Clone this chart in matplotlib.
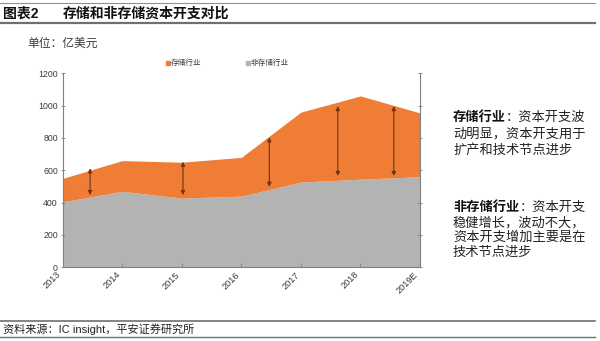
import matplotlib
matplotlib.use('Agg')
import matplotlib.pyplot as plt
from matplotlib.lines import Line2D

plt.rcParams['font.family'] = ['Liberation Sans', 'Noto Sans CJK SC']

# data
years = [2013, 2014, 2015, 2016, 2017, 2018, 2019]
year_labels = ['2013', '2014', '2015', '2016', '2017', '2018', '2019E']
non_storage = [405, 470, 428, 440, 527, 545, 560]
storage = [145, 190, 222, 240, 433, 515, 395]
series_names = ['存储行业', '非存储行业']

# double arrows drawn on the chart: x position, bottom, top
arrow_x = [2013.46, 2015.02, 2016.47, 2017.62, 2018.56]
arrow_lo = [447, 447, 498, 565, 565]
arrow_hi = [612, 653, 804, 997, 997]

orange = '#ef7d35'
grey = '#b3b3b3'
arrow_col = '#6b3514'
txt = '#3a3a3a'

fig = plt.figure(figsize=(6, 3.41), dpi=100)
W, H = 600, 341

def fx(px):
    return px / W

def fy(py):
    return 1 - py / H

ax = fig.add_axes([fx(62.7), fy(267.3), fx(420 - 62.7), (267.3 - 73.3) / H])
total = [a + b for a, b in zip(non_storage, storage)]
ax.fill_between(years, 0, non_storage, color=grey, lw=0, label=series_names[1])
ax.fill_between(years, non_storage, total, color=orange, lw=0, label=series_names[0])

for x, lo, hi in zip(arrow_x, arrow_lo, arrow_hi):
    ax.annotate('', xy=(x, hi), xytext=(x, lo),
                arrowprops=dict(arrowstyle='<|-|>', color=arrow_col, lw=0.8,
                                mutation_scale=6, shrinkA=0, shrinkB=0))

ax.set_xlim(2013, 2019)
ax.set_ylim(0, 1200)
ax.set_yticks(range(0, 1201, 200))
ax.set_xticks(years)
ax.set_xticklabels(year_labels, rotation=45, ha='right', va='top', fontsize=6.6, color=txt)
ax.tick_params(axis='y', labelsize=6.3, labelcolor=txt, direction='inout', length=3,
               width=0.6, color='#808080', pad=2)
ax.tick_params(axis='x', direction='in', length=3, width=0.6, color='#808080', pad=2)
for s in ['left', 'bottom', 'right']:
    ax.spines[s].set_color('#808080')
    ax.spines[s].set_linewidth(0.8)
ax.spines['top'].set_visible(False)
ax2 = ax.twinx()
ax2.set_ylim(0, 1200)
ax2.set_yticks(range(0, 1201, 200))
ax2.set_yticklabels([])
ax2.tick_params(axis='y', direction='inout', length=3, width=0.6, color='#808080')
for s in ax2.spines.values():
    s.set_visible(False)

# legend
fig.patches.append(plt.Rectangle((fx(166), fy(65)), fx(4), 4 / H, color=orange,
                                 transform=fig.transFigure))
fig.text(fx(171), fy(62.7), series_names[0], fontsize=5.5, color=txt, va='center')
fig.patches.append(plt.Rectangle((fx(246), fy(65)), fx(4), 4 / H, color=grey,
                                 transform=fig.transFigure))
fig.text(fx(251), fy(62.7), series_names[1], fontsize=5.5, color=txt, va='center')

# header / footer
fig.text(fx(3), fy(14), '图表2', fontsize=10, fontweight='bold', color='#111111', va='center')
fig.text(fx(63), fy(14), '存储和非存储资本开支对比', fontsize=10, fontweight='bold',
         color='#111111', va='center')
fig.lines.append(Line2D([0, fx(595)], [fy(2.5), fy(2.5)], color='#909090', lw=0.8,
                        transform=fig.transFigure))
fig.lines.append(Line2D([0, fx(595)], [fy(23), fy(23)], color='#707070', lw=1.6,
                        transform=fig.transFigure))
fig.text(fx(27), fy(44), '单位：亿美元', fontsize=8.5, color=txt, va='center')

fig.lines.append(Line2D([0, fx(595)], [fy(320.7), fy(320.7)], color='#707070', lw=1.2,
                        transform=fig.transFigure))
fig.lines.append(Line2D([0, fx(595)], [fy(337.3), fy(337.3)], color='#707070', lw=1.0,
                        transform=fig.transFigure))
fig.text(fx(3), fy(329), '资料来源：IC insight，平安证券研究所', fontsize=8, color='#222222',
         va='center')

# side notes
def line(x, y, s):
    fig.text(fx(x), fy(y), s, fontsize=9.5, color='#222222', va='center')

t1 = fig.text(fx(453), fy(118), '存储行业', fontsize=9.5, fontweight='bold',
              color='#111111', va='center')
ax.annotate('：资本开支波', xy=(1, 0.5), xycoords=t1, va='center', ha='left',
            fontsize=9.5, color='#222222', annotation_clip=False)
line(453, 134, '动明显，资本开支用于')
line(453, 150, '扩产和技术节点进步')

t2 = fig.text(fx(453), fy(208), '非存储行业', fontsize=9.5, fontweight='bold',
              color='#111111', va='center')
ax.annotate('：资本开支', xy=(1, 0.5), xycoords=t2, va='center', ha='left',
            fontsize=9.5, color='#222222', annotation_clip=False)
line(453, 223, '稳健增长，波动不大，')
line(453, 238, '资本开支增加主要是在')
line(453, 253, '技术节点进步')

fig.savefig('out.png', dpi=100)
